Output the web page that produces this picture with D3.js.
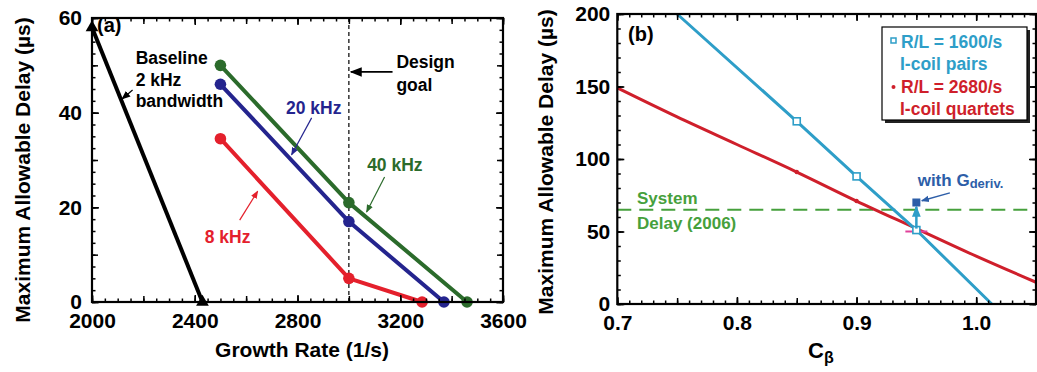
<!DOCTYPE html>
<html>
<head>
<meta charset="utf-8">
<script src="https://cdn.jsdelivr.net/npm/d3@7"></script>
<style>
  body { margin: 0; background: #fff; }
  svg text { font-family: "Liberation Sans", Arial, Helvetica, sans-serif; font-weight: bold; }
</style>
</head>
<body>
<svg id="chart" width="1037" height="372"></svg>
<script>
// panel (a): delay vs growth rate
var growthTicks = [2000, 2400, 2800, 3200, 3600];
var delayTicksA = [0, 20, 40, 60];
var designGoal = 3000;

var growthBaseline = [2000, 2430];
var delayBaseline = [58, 0];
var growth40 = [2500, 3000, 3460];
var delay40 = [50, 21, 0];
var growth20 = [2500, 3000, 3370];
var delay20 = [46, 17, 0];
var growth8 = [2500, 3000, 3285];
var delay8 = [34.5, 5, 0];

// panel (b): delay vs C_beta
var cbTicks = [0.7, 0.8, 0.9, 1.0];
var cbTickLabels = ["0.7", "0.8", "0.9", "1.0"];
var delayTicksB = [0, 50, 100, 150, 200];
var systemDelay = 65;

var cbPairs = [0.75, 0.85, 0.9, 0.95, 1.013];
var delayPairs = [200, 126, 88, 51, 0];
var cbQuartets = [0.7, 0.75, 0.8, 0.85, 0.9, 0.95, 1.0, 1.05];
var delayQuartets = [149, 129, 110, 91, 71, 52, 33, 15];
var gDerivCb = 0.95;
var gDerivFrom = 52;
var gDerivTo = 70;

var svg = d3.select("#chart");
var defs = svg.append("defs");

function arrowHead(id, color, size) {
  defs.append("marker")
    .attr("id", id)
    .attr("viewBox", "0 0 10 10")
    .attr("refX", 9).attr("refY", 5)
    .attr("markerWidth", size).attr("markerHeight", size)
    .attr("markerUnits", "userSpaceOnUse")
    .attr("orient", "auto")
    .append("path")
    .attr("d", "M0,1 L10,5 L0,9 Z")
    .attr("fill", color);
}
arrowHead("ah-black", "#000", 9);
arrowHead("ah-navy", "#24248e", 8);
arrowHead("ah-green", "#2b6b2b", 8);
arrowHead("ah-red", "#e4202c", 8);
arrowHead("ah-blue", "#2d5ea8", 8);
arrowHead("ah-cyan", "#2e9ec8", 11);
arrowHead("ah-design", "#000", 12);

function frameAxes(g, x, y, o) {
  // labelled major ticks on bottom/left, inward ticks on all four sides
  g.append("g").attr("transform", "translate(0," + y.range()[0] + ")")
    .call(d3.axisBottom(x).tickValues(o.xMajor).tickSize(-7).tickPadding(11)
      .tickFormat(o.xFormat))
    .call(function(a) { a.select(".domain").remove(); });
  g.append("g").attr("transform", "translate(" + x.range()[0] + ",0)")
    .call(d3.axisLeft(y).tickValues(o.yMajor).tickSize(-7).tickPadding(o.yPad))
    .call(function(a) { a.select(".domain").remove(); });
  g.selectAll(".tick text").attr("font-size", 21).attr("fill", "#000")
    .style("font-family", "\"Liberation Sans\", Arial, sans-serif").style("font-weight", "bold");
  g.selectAll(".tick line").attr("stroke-width", 1.5);

  var sides = [
    [d3.axisBottom(x), "translate(0," + y.range()[0] + ")", o.xMinor, o.xMid],
    [d3.axisTop(x), "translate(0," + y.range()[1] + ")", o.xMinor, o.xMid],
    [d3.axisLeft(y), "translate(" + x.range()[0] + ",0)", o.yMinor, o.yMid],
    [d3.axisRight(y), "translate(" + x.range()[1] + ",0)", o.yMinor, o.yMid]
  ];
  sides.forEach(function(s, i) {
    var ax = g.append("g").attr("transform", s[1]);
    ax.append("g").call(s[0].tickValues(s[2]).tickSize(-3.5).tickFormat(""));
    ax.append("g").call(s[0].tickValues(s[3]).tickSize(-6).tickFormat(""));
    if (i % 2 == 1) {
      ax.append("g").call(s[0].tickValues(i == 1 ? o.xMajor : o.yMajor).tickSize(-7).tickFormat(""));
    }
    ax.selectAll(".domain").remove();
    ax.selectAll("line").attr("stroke", "#000").attr("stroke-width", 1.5);
  });

  g.append("rect")
    .attr("x", x.range()[0]).attr("y", y.range()[1])
    .attr("width", x.range()[1] - x.range()[0])
    .attr("height", y.range()[0] - y.range()[1])
    .attr("fill", "none").attr("stroke", "#000").attr("stroke-width", 2.2);
}

function label(g, txt, px, py, size, color, anchor) {
  return g.append("text").attr("x", px).attr("y", py)
    .attr("font-size", size).attr("fill", color)
    .attr("text-anchor", anchor || "start").text(txt);
}

function arrow(g, x1, y1, x2, y2, color, width, marker) {
  g.append("line")
    .attr("x1", x1).attr("y1", y1).attr("x2", x2).attr("y2", y2)
    .attr("stroke", color).attr("stroke-width", width)
    .attr("marker-end", "url(#" + marker + ")");
}

// ---------- panel (a) ----------
var xA = d3.scaleLinear().domain([2000, 3600]).range([92, 503]);
var yA = d3.scaleLinear().domain([0, 60]).range([302, 18]);
var gA = svg.append("g");

gA.append("line")
  .attr("x1", xA(designGoal)).attr("x2", xA(designGoal))
  .attr("y1", yA(60)).attr("y2", yA(0))
  .attr("stroke", "#000").attr("stroke-width", 1.2).attr("stroke-dasharray", "4,3");

var lineA = d3.line().x(function(d) { return xA(d[0]); }).y(function(d) { return yA(d[1]); });

var seriesA = [
  { g: growthBaseline, d: delayBaseline, color: "#000", tri: true },
  { g: growth8, d: delay8, color: "#e4202c" },
  { g: growth20, d: delay20, color: "#24248e" },
  { g: growth40, d: delay40, color: "#2b6b2b" }
];
seriesA.forEach(function(s) {
  var pts = d3.zip(s.g, s.d);
  gA.append("path").datum(pts).attr("d", lineA)
    .attr("fill", "none").attr("stroke", s.color).attr("stroke-width", 4)
    .attr("stroke-linejoin", "round");
  if (s.tri) {
    gA.selectAll(null).data(pts).enter().append("path")
      .attr("d", d3.symbol(d3.symbolTriangle, 70))
      .attr("transform", function(d) { return "translate(" + xA(d[0]) + "," + yA(d[1]) + ")"; })
      .attr("fill", "#000");
  } else {
    gA.selectAll(null).data(pts).enter().append("circle")
      .attr("cx", function(d) { return xA(d[0]); })
      .attr("cy", function(d) { return yA(d[1]); })
      .attr("r", 5.8).attr("fill", s.color);
  }
});

frameAxes(gA, xA, yA, {
  xMajor: growthTicks, xMid: d3.range(2000, 3601, 200), xMinor: d3.range(2000, 3601, 50),
  yMajor: delayTicksA, yMid: d3.range(0, 61, 10), yMinor: d3.range(0, 61, 2.5),
  yPad: 10, xFormat: d3.format("d")
});

label(gA, "(a)", 97, 32, 20, "#000");
label(gA, "Baseline", xA(2170), yA(50.3), 17.5, "#000");
label(gA, "2 kHz", xA(2170), yA(45.7), 17.5, "#000");
label(gA, "bandwidth", xA(2170), yA(41.3), 17.5, "#000");
arrow(gA, xA(2158), yA(44.8), xA(2117), yA(42.9), "#000", 1.2, "ah-black");

label(gA, "Design", xA(3185), yA(49.4), 17.5, "#000");
label(gA, "goal", xA(3185), yA(44.6), 17.5, "#000");
arrow(gA, xA(3170), yA(48.6), xA(3008), yA(48.6), "#000", 1.8, "ah-design");

label(gA, "20 kHz", xA(2863), yA(39.7), 17.5, "#24248e", "middle");
arrow(gA, xA(2855), yA(38.9), xA(2777), yA(31.1), "#24248e", 1.2, "ah-navy");
label(gA, "40 kHz", xA(3179), yA(27.7), 17.5, "#2b6b2b", "middle");
arrow(gA, xA(3139), yA(26.4), xA(3069), yA(19.0), "#2b6b2b", 1.2, "ah-green");
label(gA, "8 kHz", xA(2528), yA(12.5), 17.5, "#e4202c", "middle");
arrow(gA, xA(2575), yA(17.3), xA(2645), yA(23.4), "#e4202c", 1.2, "ah-red");

gA.append("text")
  .attr("transform", "translate(30,170) rotate(-90)")
  .attr("text-anchor", "middle").attr("font-size", 21).attr("fill", "#000")
  .text("Maximum Allowable Delay (\u00b5s)");
label(gA, "Growth Rate (1/s)", 302, 357, 21, "#000", "middle");

// ---------- panel (b) ----------
var xB = d3.scaleLinear().domain([0.7, 1.05]).range([617.3, 1036]);
var yB = d3.scaleLinear().domain([0, 200]).range([304, 14]);
var gB = svg.append("g");

gB.append("line")
  .attr("x1", xB(0.7)).attr("x2", xB(1.05))
  .attr("y1", yB(systemDelay)).attr("y2", yB(systemDelay))
  .attr("stroke", "#46a03c").attr("stroke-width", 2).attr("stroke-dasharray", "14,8");

var lineB = d3.line().x(function(d) { return xB(d[0]); }).y(function(d) { return yB(d[1]); });

var quartets = d3.zip(cbQuartets, delayQuartets);
gB.append("path").datum(quartets).attr("d", lineB.curve(d3.curveMonotoneX))
  .attr("fill", "none").attr("stroke", "#cf1f2b").attr("stroke-width", 3);
gB.selectAll(null).data(quartets.filter(function(d) { return d[0] == 0.85 || d[0] == 0.9; }))
  .enter().append("circle")
  .attr("cx", function(d) { return xB(d[0]); }).attr("cy", function(d) { return yB(d[1]); })
  .attr("r", 2.2).attr("fill", "#cf1f2b");
gB.append("line")
  .attr("x1", xB(gDerivCb) - 11).attr("x2", xB(gDerivCb) + 11)
  .attr("y1", yB(50)).attr("y2", yB(50))
  .attr("stroke", "#e0409a").attr("stroke-width", 2);

var pairs = d3.zip(cbPairs, delayPairs);
gB.append("path").datum(pairs).attr("d", lineB.curve(d3.curveLinear))
  .attr("fill", "none").attr("stroke", "#2e9ec8").attr("stroke-width", 3);
gB.selectAll(null).data(pairs.slice(1, 4)).enter().append("rect")
  .attr("x", function(d) { return xB(d[0]) - 3.5; }).attr("y", function(d) { return yB(d[1]) - 3.5; })
  .attr("width", 7).attr("height", 7)
  .attr("fill", "#fff").attr("stroke", "#2e9ec8").attr("stroke-width", 1.6);

arrow(gB, xB(gDerivCb), yB(gDerivFrom), xB(gDerivCb), yB(gDerivTo - 3), "#2e9ec8", 2.5, "ah-cyan");
gB.append("rect")
  .attr("x", xB(gDerivCb) - 4).attr("y", yB(gDerivTo) - 4)
  .attr("width", 8).attr("height", 8).attr("fill", "#2d5ea8");

frameAxes(gB, xB, yB, {
  xMajor: cbTicks, xMid: d3.range(0.7, 1.051, 0.05), xMinor: d3.range(0.7, 1.051, 0.01),
  yMajor: delayTicksB, yMid: d3.range(0, 201, 50), yMinor: d3.range(0, 201, 10),
  yPad: 7, xFormat: function(d, i) { return cbTickLabels[i]; }
});

label(gB, "(b)", 628, 41, 20, "#000");
label(gB, "System", xB(0.7165), yB(69), 17, "#46a03c");
label(gB, "Delay (2006)", xB(0.7165), yB(51.7), 17, "#46a03c");

var wg = label(gB, "with G", xB(0.9511), yB(81.4), 17, "#2d5ea8");
wg.append("tspan").attr("font-size", 13).attr("dy", 2).text("deriv.");
arrow(gB, xB(0.978), yB(76.6), xB(0.9545), yB(71.2), "#2d5ea8", 1.4, "ah-blue");

// legend box with drop shadow
var lg = gB.append("g").attr("transform", "translate(882,27)");
lg.append("rect").attr("x", 3).attr("y", 3).attr("width", 145).attr("height", 93).attr("fill", "#222");
lg.append("rect").attr("width", 145).attr("height", 93)
  .attr("fill", "#fff").attr("stroke", "#000").attr("stroke-width", 1.2);
lg.append("rect").attr("x", 9).attr("y", 11).attr("width", 5).attr("height", 5)
  .attr("fill", "#fff").attr("stroke", "#2e9ec8").attr("stroke-width", 1.5);
lg.append("circle").attr("cx", 11.5).attr("cy", 60).attr("r", 2).attr("fill", "#cf1f2b");
label(lg, "R/L = 1600/s", 19, 21, 17.5, "#2e9ec8");
label(lg, "I-coil pairs", 18, 43, 17.5, "#2e9ec8");
label(lg, "R/L = 2680/s", 19, 66, 17.5, "#cf1f2b");
label(lg, "I-coil quartets", 18, 88, 17.5, "#cf1f2b");

gB.append("text")
  .attr("transform", "translate(553,162) rotate(-90)")
  .attr("text-anchor", "middle").attr("font-size", 21).attr("fill", "#000")
  .text("Maximum Allowable Delay (\u00b5s)");
var cb = label(gB, "C", 808, 358, 22, "#000");
cb.append("tspan").attr("font-size", 16).attr("dy", 5).text("\u03b2");
</script>
</body>
</html>
